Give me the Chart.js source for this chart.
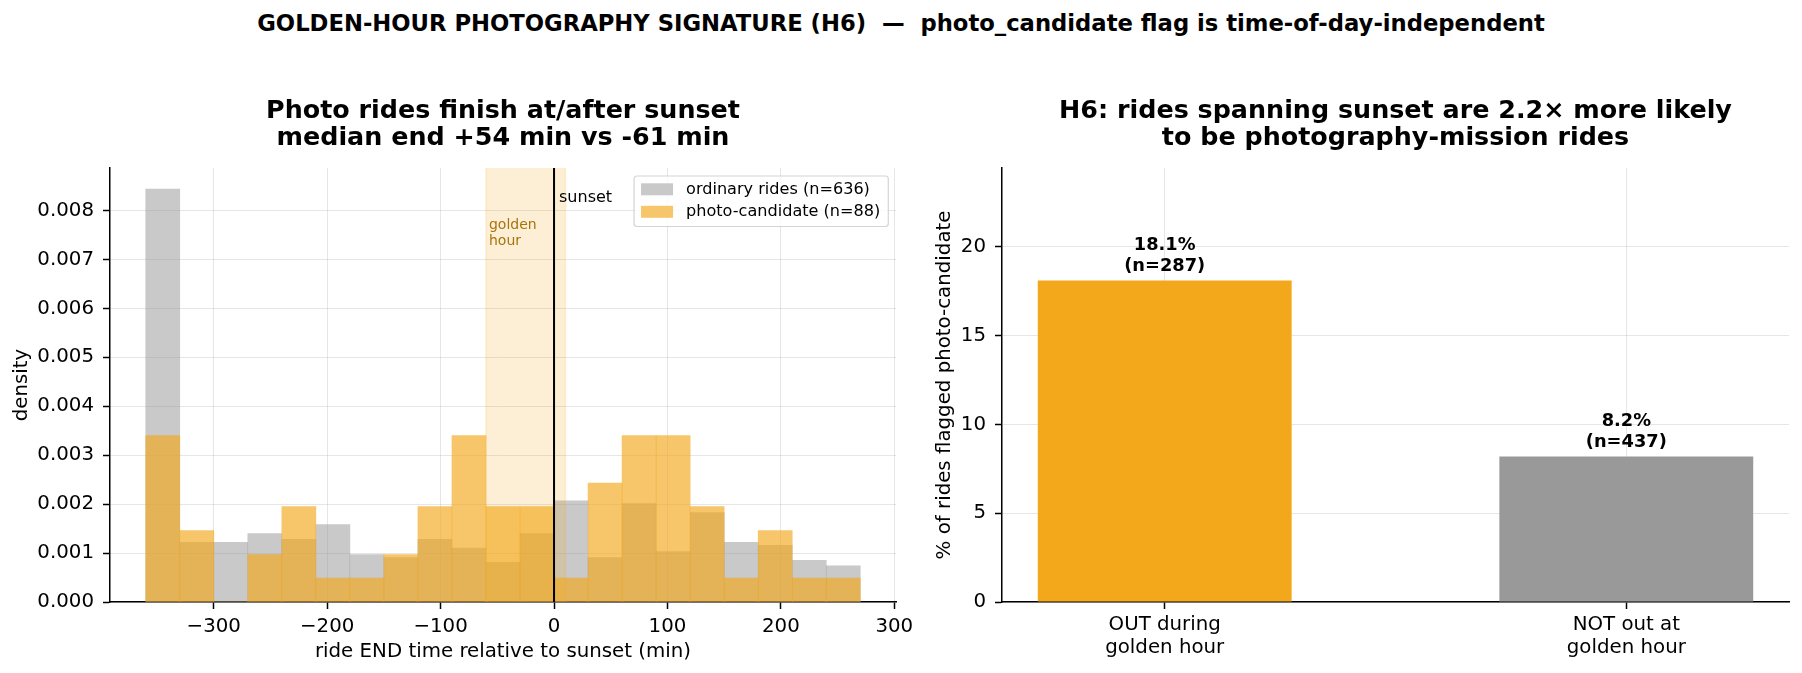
<!DOCTYPE html>
<html><head><meta charset="utf-8">
<script src="https://cdn.jsdelivr.net/npm/chart.js@4.4.1/dist/chart.umd.min.js"></script>
<style>
html,body{margin:0;padding:0;background:#fff;}
body{width:1802px;height:673px;position:relative;overflow:hidden;font-family:"DejaVu Sans";}
#sup{position:absolute;left:0;top:0;width:1802px;text-align:center;font:bold 22.7px "DejaVu Sans";line-height:46px;color:#000;white-space:pre;}
#c1{position:absolute;left:0;top:0;}
#c2{position:absolute;left:910px;top:0;}
</style></head><body>
<div id="sup">GOLDEN-HOUR PHOTOGRAPHY SIGNATURE (H6)  —  photo_candidate flag is time-of-day-independent</div>
<canvas id="c1" width="930" height="673"></canvas>
<canvas id="c2" width="892" height="673"></canvas>
<script>
// ---------- data ----------
const binEdges = [-360,-330,-300,-270,-240,-210,-180,-150,-120,-90,-60,-30,0,30,60,90,120,150,180,210,240,270];
const ordinaryDensity = [0.00844,0.00122,0.00122,0.00140,0.00128,0.00158,0.00097,0.00091,0.00128,0.00110,0.00081,0.00140,0.00207,0.00091,0.00201,0.00103,0.00183,0.00122,0.00116,0.00085,0.00074];
const photoDensity    = [0.00340,0.00146,0.00000,0.00097,0.00195,0.00049,0.00049,0.00097,0.00195,0.00340,0.00195,0.00195,0.00049,0.00243,0.00340,0.00340,0.00195,0.00049,0.00146,0.00049,0.00049];
const seriesNames = ['ordinary rides (n=636)','photo-candidate (n=88)'];
const xTickValues = [-300,-200,-100,0,100,200,300];
const yTickValues = [0,0.001,0.002,0.003,0.004,0.005,0.006,0.007,0.008];
const goldenHour = [-60,10];
const sunsetAt = 0;

const groupLabels = [['OUT during','golden hour'],['NOT out at','golden hour']];
const pctPhoto = [18.1, 8.2];
const groupN = [287, 437];
const pctTickValues = [0,5,10,15,20];

const titles1 = ['Photo rides finish at/after sunset','median end +54 min vs -61 min'];
const titles2 = ['H6: rides spanning sunset are 2.2\u00d7 more likely','to be photography-mission rides'];

// ---------- style ----------
const F = 'DejaVu Sans';
const FS = 19.8;
const gridColor = 'rgba(176,176,176,0.32)';
const fmtMinus = v => v < 0 ? '\u2212' + Math.abs(v) : String(v);
const fixTicks = vals => scale => { scale.ticks = vals.map(v => ({value: v})); };

function drawTitle(chart, lines){
  const {ctx, chartArea:a} = chart;
  ctx.save();
  ctx.fillStyle = '#000';
  ctx.font = 'bold 25.4px "DejaVu Sans"';
  ctx.textAlign = 'center';
  ctx.textBaseline = 'middle';
  const cx = (a.left + a.right) / 2;
  lines.forEach((t,i) => ctx.fillText(t, cx, 111 + i*27.5));
  ctx.restore();
}

const centers = binEdges.slice(0,-1).map((e,i) => (e + binEdges[i+1]) / 2);

const histPlugin = {
  id:'histAnnot',
  afterDatasetsDraw(chart){
    const {ctx, chartArea:a, scales:{x}} = chart;
    const x0 = x.getPixelForValue(goldenHour[0]), x1 = x.getPixelForValue(goldenHour[1]);
    ctx.save();
    ctx.fillStyle = 'rgba(242,168,26,0.18)';
    ctx.fillRect(x0, a.top, x1 - x0, a.bottom - a.top);
    ctx.strokeStyle = 'rgba(242,168,26,0.18)';
    ctx.lineWidth = 1.5;
    ctx.beginPath();
    ctx.moveTo(x0, a.top); ctx.lineTo(x0, a.bottom);
    ctx.moveTo(x1, a.top); ctx.lineTo(x1, a.bottom);
    ctx.stroke();
    ctx.restore();
  },
  afterDraw(chart){
    const {ctx, chartArea:a, scales:{x}} = chart;
    ctx.save();
    // sunset line
    const xs = x.getPixelForValue(sunsetAt);
    ctx.strokeStyle = '#000'; ctx.lineWidth = 2;
    ctx.beginPath(); ctx.moveTo(xs, a.top); ctx.lineTo(xs, a.bottom); ctx.stroke();
    // texts
    ctx.textBaseline = 'middle'; ctx.textAlign = 'left';
    ctx.fillStyle = '#000'; ctx.font = '16px "DejaVu Sans"';
    ctx.fillText('sunset', xs + 5, a.top + 29.5);
    const xg = x.getPixelForValue(goldenHour[0]);
    ctx.fillStyle = '#a8730c'; ctx.font = '14px "DejaVu Sans"';
    ctx.fillText('golden', xg + 3, a.top + 57.5);
    ctx.fillText('hour', xg + 3, a.top + 73.5);
    // legend
    ctx.font = '16.1px "DejaVu Sans"';
    const tw = Math.max(...seriesNames.map(s => ctx.measureText(s).width));
    const w = 52 + tw + 8, h = 50.5;
    const L = a.right - 7.7 - w, T = a.top + 8;
    ctx.beginPath();
    if (ctx.roundRect) ctx.roundRect(L, T, w, h, 3); else ctx.rect(L, T, w, h);
    ctx.fillStyle = 'rgba(255,255,255,0.8)'; ctx.fill();
    ctx.strokeStyle = 'rgba(204,204,204,0.85)'; ctx.lineWidth = 1.2; ctx.stroke();
    const cols = chart.data.datasets.map(d => d.backgroundColor);
    [13.3, 35.8].forEach((dy,i) => {
      ctx.fillStyle = '#fff'; ctx.fillRect(L + 7, T + dy - 6, 32, 12);
      ctx.fillStyle = cols[i]; ctx.fillRect(L + 7, T + dy - 6, 32, 12);
      ctx.fillStyle = '#000'; ctx.fillText(seriesNames[i], L + 52, T + dy + 0.5);
    });
    ctx.restore();
    drawTitle(chart, titles1);
  }
};

new Chart(document.getElementById('c1'), {
  type: 'bar',
  data: {
    datasets: [
      {label: seriesNames[0], data: centers.map((c,i) => ({x:c, y:ordinaryDensity[i]})),
       backgroundColor: 'rgba(153,153,153,0.53)', order: 1, grouped: false,
       barPercentage: 1, categoryPercentage: 1, borderWidth: 0},
      {label: seriesNames[1], data: centers.map((c,i) => ({x:c, y:photoDensity[i]})),
       backgroundColor: 'rgba(242,168,26,0.65)', order: 0, grouped: false,
       barPercentage: 1, categoryPercentage: 1, borderWidth: 0}
    ]
  },
  options: {
    responsive: false, animation: false, devicePixelRatio: 1,
    layout: {padding: {left: 0, top: 168, right: 34, bottom: 0}},
    plugins: {legend: {display: false}, tooltip: {enabled: false}, title: {display: false}},
    scales: {
      x: {
        type: 'linear', min: -391.5, max: 301.5, offset: false, z: 1,
        grid: {offset: false, color: gridColor, lineWidth: 1, tickColor: '#000', tickWidth: 1.5, tickLength: 7},
        border: {color: '#000', width: 1.5},
        afterBuildTicks: fixTicks(xTickValues),
        afterFit: s => { s.height = 71; },
        ticks: {color: '#000', font: {family: F, size: FS}, padding: 5.5, maxRotation: 0, autoSkip: false, callback: v => fmtMinus(v)},
        title: {display: true, text: 'ride END time relative to sunset (min)', color: '#000', font: {family: F, size: FS}, padding: {top: 0, bottom: 9.5}}
      },
      y: {
        type: 'linear', min: 0, max: 0.00887, z: 1,
        grid: {color: gridColor, lineWidth: 1, tickColor: '#000', tickWidth: 1.5, tickLength: 7},
        border: {color: '#000', width: 1.5},
        afterBuildTicks: fixTicks(yTickValues),
        afterFit: s => { s.width = 110; },
        ticks: {color: '#000', font: {family: F, size: FS}, padding: 9, autoSkip: false, callback: v => v.toFixed(3)},
        title: {display: true, text: 'density', color: '#000', font: {family: F, size: FS}, padding: {top: 9.5, bottom: 0}}
      }
    }
  },
  plugins: [histPlugin]
});

const barPlugin = {
  id: 'barAnnot',
  afterDraw(chart){
    const {ctx} = chart;
    const meta = chart.getDatasetMeta(0);
    ctx.save();
    ctx.fillStyle = '#000';
    ctx.font = 'bold 17.8px "DejaVu Sans"';
    ctx.textAlign = 'center'; ctx.textBaseline = 'middle';
    meta.data.forEach((bar,i) => {
      ctx.fillText(pctPhoto[i].toFixed(1) + '%', bar.x, bar.y - 35);
      ctx.fillText('(n=' + groupN[i] + ')', bar.x, bar.y - 14);
    });
    ctx.restore();
    drawTitle(chart, titles2);
  }
};

new Chart(document.getElementById('c2'), {
  type: 'bar',
  data: {
    datasets: [
      {label: '% photo-candidate', data: pctPhoto.map((v,i) => ({x:i, y:v})),
       backgroundColor: ['#f2a81a','#999999'], borderWidth: 0,
       barPercentage: 0.55, categoryPercentage: 1}
    ]
  },
  options: {
    responsive: false, animation: false, devicePixelRatio: 1,
    layout: {padding: {left: 0, top: 168, right: 13, bottom: 0}},
    plugins: {legend: {display: false}, tooltip: {enabled: false}, title: {display: false}},
    scales: {
      x: {
        type: 'linear', min: -0.3525, max: 1.3525, offset: false, z: 1,
        grid: {offset: false, color: gridColor, lineWidth: 1, tickColor: '#000', tickWidth: 1.5, tickLength: 7},
        border: {color: '#000', width: 1.5},
        afterBuildTicks: fixTicks(groupLabels.map((g,i) => i)),
        afterFit: s => { s.height = 71; },
        ticks: {color: '#000', font: {family: F, size: FS, lineHeight: 1.14}, padding: 5, maxRotation: 0, autoSkip: false, callback: v => groupLabels[v]},
      },
      y: {
        type: 'linear', min: 0, max: 24.44, z: 1,
        grid: {color: gridColor, lineWidth: 1, tickColor: '#000', tickWidth: 1.5, tickLength: 7},
        border: {color: '#000', width: 1.5},
        afterBuildTicks: fixTicks(pctTickValues),
        afterFit: s => { s.width = 92; },
        ticks: {color: '#000', font: {family: F, size: FS}, padding: 9, autoSkip: false, callback: v => String(v)},
        title: {display: true, text: '% of rides flagged photo-candidate', color: '#000', font: {family: F, size: FS}, padding: {top: 23, bottom: 0}}
      }
    }
  },
  plugins: [barPlugin]
});
</script>
</body></html>
